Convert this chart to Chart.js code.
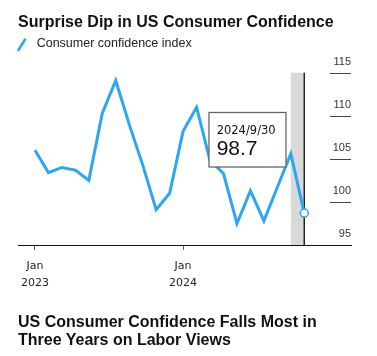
<!DOCTYPE html>
<html><head><meta charset="utf-8">
<script src="https://cdn.jsdelivr.net/npm/chart.js@4"></script>
<style>
html,body{margin:0;padding:0;background:#fff;}
#wrap{position:relative;width:377px;height:356px;overflow:hidden;}
#c{position:absolute;left:0;top:0;}
.t{position:absolute;left:18px;font-family:"Liberation Sans",Arial,sans-serif;color:#111;white-space:nowrap;}
#title{top:13.5px;font-size:16px;line-height:16px;font-weight:bold;}
#legend{top:37.1px;left:36.7px;font-size:12.5px;line-height:12.5px;color:#222;}
#sub{top:312.7px;font-size:16px;line-height:18.5px;font-weight:bold;}
#sw{position:absolute;left:17px;top:38px;}
</style></head>
<body><div id="wrap">
<canvas id="c" width="377" height="356"></canvas>
<div id="title" class="t">Surprise Dip in US Consumer Confidence</div>
<svg id="sw" width="10" height="14"><line x1="1.5" y1="12" x2="8" y2="1.5" stroke="#2ba6f2" stroke-width="2.5" stroke-linecap="round"/></svg>
<div id="legend" class="t"></div>
<div id="sub" class="t">US Consumer Confidence Falls Most in<br>Three Years on Labor Views</div>
</div>
<script>
// ---- data ----
const dates = ['2023/1/31','2023/2/28','2023/3/31','2023/4/30','2023/5/31','2023/6/30','2023/7/31','2023/8/31','2023/9/30','2023/10/31','2023/11/30','2023/12/31',
               '2024/1/31','2024/2/29','2024/3/31','2024/4/30','2024/5/31','2024/6/30','2024/7/31','2024/8/31','2024/9/30'];
const values = [106.0,103.4,104.0,103.7,102.5,110.3,114.1,109.0,104.3,99.1,101.0,108.2,
                111.0,104.8,103.3,97.5,101.3,97.8,101.7,105.6,98.7];
const seriesName = 'Consumer confidence index';
const xTickIndex = [0, 11];
const xTickLabels = [['Jan','2023'],['Jan','2024']];
const yTicks = [95,100,105,110,115];
const highlightFrom = 19, highlightTo = 20;

document.getElementById('legend').textContent = seriesName;

const BLUE = '#2ba6f2';
const last = values.length - 1;

const overlay = {
  id: 'overlay',
  beforeDatasetsDraw(chart) {
    const {ctx, chartArea: a, scales: {x, y}} = chart;
    const yTop = y.getPixelForValue(yTicks[yTicks.length-1]);
    const yBot = y.getPixelForValue(yTicks[0]);
    const x0 = x.getPixelForValue(highlightFrom), x1 = x.getPixelForValue(highlightTo);
    ctx.save();
    ctx.fillStyle = '#d9d9d9';
    ctx.fillRect(x0, yTop, x1 - x0, yBot - yTop);
    ctx.strokeStyle = '#222'; ctx.lineWidth = 1.5;
    ctx.beginPath(); ctx.moveTo(x1, yTop); ctx.lineTo(x1, yBot); ctx.stroke();
    ctx.font = '11px "Liberation Sans", Arial, sans-serif';
    ctx.fillStyle = '#333'; ctx.textAlign = 'right'; ctx.textBaseline = 'alphabetic';
    yTicks.forEach((v, i) => {
      const py = y.getPixelForValue(v);
      if (i > 0) {
        ctx.strokeStyle = '#444'; ctx.lineWidth = 1;
        ctx.beginPath(); ctx.moveTo(a.right - 21, Math.round(py) + 0.5); ctx.lineTo(a.right, Math.round(py) + 0.5); ctx.stroke();
      }
      ctx.fillText(String(v), a.right, py - 7.7);
    });
    ctx.restore();
  },
  afterDatasetsDraw(chart) {
    const {ctx, chartArea: a, scales: {x}} = chart;
    const xl = x.getPixelForValue(last);
    const left = xl - 95.3, top = a.top + 39.8, w = 77, h = 54.5;
    ctx.save();
    ctx.fillStyle = '#fff'; ctx.fillRect(left, top, w, h);
    ctx.strokeStyle = '#666'; ctx.lineWidth = 1.3; ctx.strokeRect(left, top, w, h);
    ctx.fillStyle = '#111'; ctx.textAlign = 'left'; ctx.textBaseline = 'alphabetic';
    ctx.font = '11.5px "DejaVu Sans", sans-serif';
    ctx.fillText(dates[last], left + 7.7, top + 21.5);
    ctx.font = '21px "Liberation Sans", Arial, sans-serif';
    ctx.fillText(values[last].toFixed(1), left + 7.7, top + 42.2);
    ctx.restore();
  }
};

new Chart(document.getElementById('c'), {
  type: 'line',
  data: {
    datasets: [{
      label: seriesName,
      data: values.map((v, i) => ({x: i, y: v})),
      borderColor: BLUE,
      borderWidth: 3,
      tension: 0,
      pointRadius: c => c.dataIndex === last ? 4 : 0,
      pointBackgroundColor: '#fff',
      pointBorderColor: BLUE,
      pointBorderWidth: 1.5,
      clip: false
    }]
  },
  options: {
    responsive: false,
    animation: false,
    events: [],
    layout: { autoPadding: false, padding: { left: 18, right: 26, top: 72.7, bottom: 61 } },
    plugins: { legend: { display: false }, tooltip: { enabled: false }, title: { display: false } },
    scales: {
      x: {
        type: 'linear',
        min: -1.26, max: 23.47,
        afterBuildTicks: axis => { axis.ticks = xTickIndex.map(v => ({value: v})); },
        afterFit: s => { s.height = 50; },
        grid: { display: true, drawOnChartArea: false, drawTicks: true, tickLength: 5, color: '#666', lineWidth: 1 },
        border: { display: true, color: '#111', width: 1 },
        ticks: {
          autoSkip: false, maxRotation: 0, padding: 8, color: '#222',
          font: { family: 'DejaVu Sans', size: 11, lineHeight: 1.5 },
          callback: v => xTickLabels[xTickIndex.indexOf(v)]
        }
      },
      y: { type: 'linear', min: 95, max: 115, display: false }
    }
  },
  plugins: [overlay]
});
</script>
</body></html>
